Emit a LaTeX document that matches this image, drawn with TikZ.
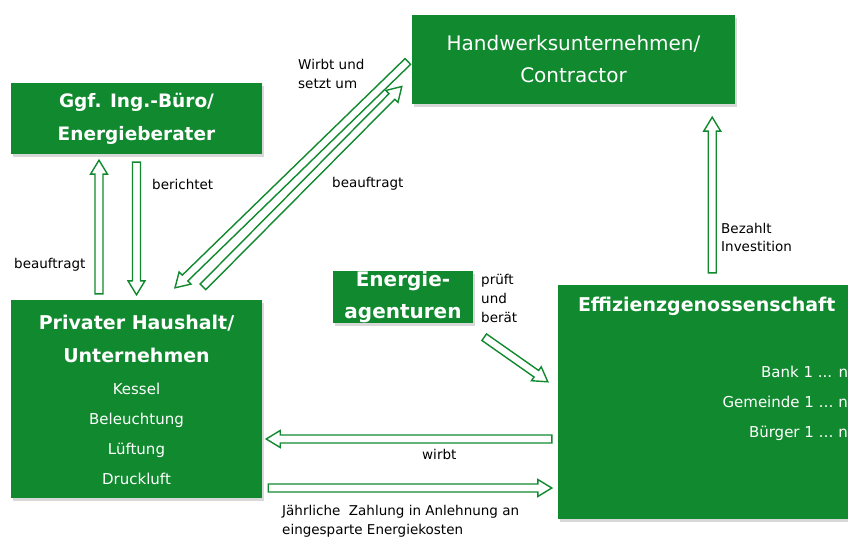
\documentclass[tikz,border=0pt]{standalone}
\usepackage{fontspec}
\setmainfont{DejaVu Sans}
\usepackage{xcolor}
\usepackage{tikz}
\usetikzlibrary{calc, shadows}

\definecolor{agreen}{RGB}{17,137,47}

% hollow block arrow from #1 (tail) to #2 (tip)
\newcommand{\hollowarrow}[2]{%
  \draw[harrow] ($(#1)!4pt!90:(#2)$) -- ($(#2)!14pt!(#1)!4pt!-90:(#1)$)
    -- ($(#2)!14pt!(#1)!8.5pt!-90:(#1)$) -- (#2)
    -- ($(#2)!14pt!(#1)!8.5pt!90:(#1)$) -- ($(#2)!14pt!(#1)!4pt!90:(#1)$)
    -- ($(#1)!4pt!-90:(#2)$) -- cycle;}

\begin{document}
\begin{tikzpicture}[
  x=1pt, y=-1pt,
  font=\fontsize{13.5}{19}\selectfont,
  box/.style={fill=agreen, text=white, align=center, inner sep=0pt,
              drop shadow={shadow xshift=2pt, shadow yshift=-3pt, opacity=0.3}},
  ttl/.style={text=white, align=center, inner sep=0pt,
              font=\fontsize{19}{33}\selectfont\bfseries},
  itm/.style={text=white, inner sep=0pt, font=\fontsize{15}{30}\selectfont},
  lbl/.style={anchor=west, align=left, inner sep=0pt},
  harrow/.style={draw=agreen, fill=white, line width=1.4pt}
]
\useasboundingbox (0,0) rectangle (848,537);
\fill[white] (0,0) rectangle (848,537);

% boxes
\node[box, minimum width=323, minimum height=89, font=\fontsize{20}{32}\selectfont]
  (hand) at (573.5,59.5) {Handwerksunternehmen/\\Contractor};
\node[box, minimum width=251, minimum height=71, font=\fontsize{18.5}{33}\selectfont\bfseries]
  (ggf) at (136.5,118.5) {Ggf. Ing.-Büro/\\Energieberater};
\node[box, minimum width=251, minimum height=198] (priv) at (136.5,399) {};
\node[box, minimum width=140, minimum height=52, font=\fontsize{20}{32}\selectfont\bfseries]
  (ener) at (403,297) {Energie-\\agenturen};
\node[box, minimum width=312, minimum height=234] (eff) at (714,402) {};

\node[ttl] (privt) at (136.5,339) {Privater Haushalt/\\Unternehmen};
\node[itm, align=center] (privl) at (136.5,433.5) {Kessel\\Beleuchtung\\Lüftung\\Druckluft};
\node[ttl, anchor=west] (efft) at ([xshift=20pt, yshift=-22pt]eff.north west) {Effizienzgenossenschaft};
\node[itm, align=right, anchor=east] (effl) at ([xshift=-22pt, yshift=-1pt]eff.east)
  {Bank 1 ... n\\Gemeinde 1 … n\\Bürger 1 … n};

% arrow ends
\coordinate (upS)   at ([xshift=-37.5pt, yshift=6pt]priv.north);
\coordinate (upE)   at (upS |- ggf.south);
\coordinate (upT)   at ([yshift=-6pt]upE);
\coordinate (dnS)   at ([yshift=-8pt]ggf.south);
\coordinate (dnE)   at ([yshift=5pt]priv.north);
\coordinate (wsS)   at ([xshift=-4pt, yshift=-2pt]hand.west);
\coordinate (wsE)   at ([xshift=38.5pt, yshift=12pt]priv.north);
\coordinate (bfS)   at ([xshift=66.5pt, yshift=13pt]priv.north);
\coordinate (bfE)   at ([xshift=-10pt, yshift=-27pt]hand.west);
\coordinate (enS)   at ([xshift=11pt, yshift=-14pt]ener.south east);
\coordinate (enE)   at ([xshift=-10pt, yshift=-97pt]eff.north west);
\coordinate (wbS)   at ([xshift=-6pt, yshift=-37pt]eff.west);
\coordinate (wbE)   at ([xshift=4pt]wbS -| priv.east);
\coordinate (zaS)   at ([xshift=6pt, yshift=-89pt]priv.east);
\coordinate (zaE)   at ([xshift=-6pt]zaS -| eff.west);
\coordinate (bzE)   at ([xshift=-23pt, yshift=-13pt]hand.south east);
\coordinate (bzS)   at ([yshift=12pt]bzE |- eff.north);

% connectors
\hollowarrow{upS}{upT}
\hollowarrow{dnS}{dnE}
\hollowarrow{wsS}{wsE}
\hollowarrow{bfS}{bfE}
\hollowarrow{enS}{enE}
\hollowarrow{wbS}{wbE}
\hollowarrow{zaS}{zaE}
\hollowarrow{bzS}{bzE}

% labels
\node[lbl] (l1) at (14,265)   {beauftragt};
\node[lbl] (l2) at (152,184)  {berichtet};
\node[lbl] (l3) at (298,73.5) {Wirbt und\\setzt um};
\node[lbl] (l4) at (332,184)  {beauftragt};
\node[lbl] (l5) at (481,298)  {prüft\\und\\berät};
\node[lbl] (l6) at (422,454)  {wirbt};
\node[lbl] (l7) at (282,521)  {Jährliche\ \ Zahlung in Anlehnung an\\eingesparte Energiekosten};
\node[lbl, font=\fontsize{13.5}{18}\selectfont] (l8) at (721,237) {Bezahlt\\Investition};
\end{tikzpicture}
\end{document}
